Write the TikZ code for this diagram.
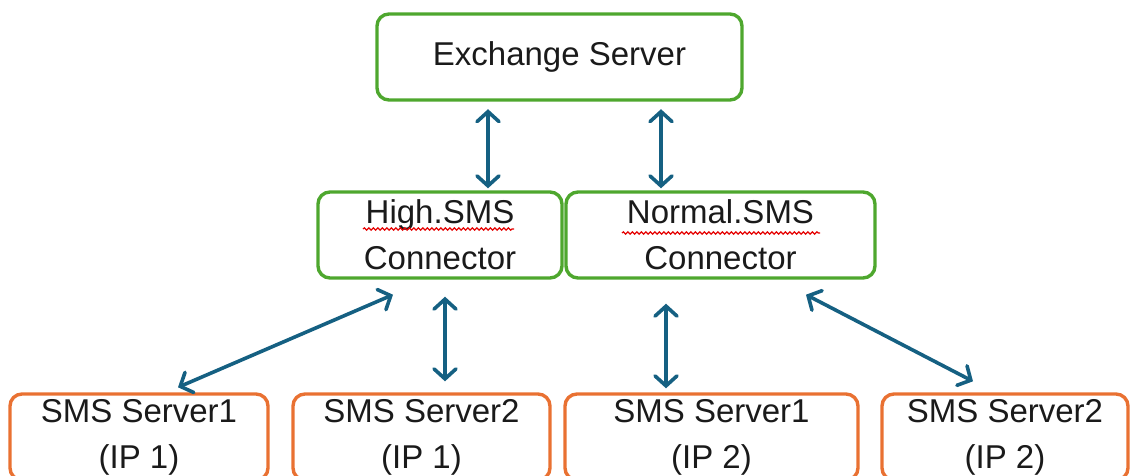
\documentclass[tikz,border=0pt]{standalone}
\usepackage{fontspec}
\setmainfont{Liberation Sans}
\usetikzlibrary{arrows.meta,decorations.pathmorphing}
\definecolor{boxgreen}{HTML}{4EA72E}
\definecolor{boxorange}{HTML}{E97132}
\definecolor{arrblue}{HTML}{156082}
\definecolor{txt}{HTML}{1A1A1A}
\tikzset{
  box/.style={draw, line width=3.4pt, rounded corners=12pt, minimum height=86pt,
    align=center, inner sep=0pt, text=txt,
    font=\fontsize{33}{46}\selectfont},
  greenbox/.style={box, draw=boxgreen},
  orangebox/.style={box, draw=boxorange},
  arr/.style={draw=arrblue, line width=3.6pt, line cap=round,
    {Straight Barb[length=10pt,width=22pt,line cap=round]}-{Straight Barb[length=10pt,width=22pt,line cap=round]}},
  squiggle/.style={draw=red!90!black, line width=1.2pt,
    decorate, decoration={snake, amplitude=1.2pt, segment length=4.5pt}}
}
\begin{document}
\begin{tikzpicture}[x=1pt,y=-1pt]
\useasboundingbox (0,0) rectangle (1133,475);
\clip (0,0) rectangle (1133,475);
\node[greenbox, minimum width=365pt] (ex) at (559.5,57) {Exchange Server};
\node[greenbox, minimum width=244pt] (hi) at (440,235) {High.SMS\\Connector};
\node[greenbox, minimum width=309pt] (no) at (720.5,235) {Normal.SMS\\Connector};
\node[orangebox, minimum width=258pt] (s1) at (139,437) {SMS Server1\\(IP 1)};
\node[orangebox, minimum width=257pt] (s2) at (421.5,437) {SMS Server2\\(IP 1)};
\node[orangebox, minimum width=293pt] (s3) at (711.5,437) {SMS Server1\\(IP 2)};
\node[orangebox, minimum width=246pt] (s4) at (1005,437) {SMS Server2\\(IP 2)};
\draw[squiggle] (363,229) -- (514,229);
\draw[squiggle] (622,233) -- (820,233);
\draw[arr] ([xshift=-71.5pt,yshift=-7.5pt]ex.south) -- ([xshift=48pt,yshift=2pt]hi.north);
\draw[arr] ([xshift=101.5pt,yshift=-7.5pt]ex.south) -- ([xshift=-59.5pt,yshift=2pt]no.north);
\draw[arr] ([xshift=-47pt,yshift=-15pt]hi.south) -- ([xshift=39pt,yshift=5pt]s1.north);
\draw[arr] ([xshift=5pt,yshift=-17pt]hi.south) -- ([xshift=23.5pt,yshift=11pt]s2.north);
\draw[arr] ([xshift=-54.5pt,yshift=-24pt]no.south) -- ([xshift=-45.5pt,yshift=4pt]s3.north);
\draw[arr] ([xshift=85.5pt,yshift=-15pt]no.south) -- ([xshift=-32pt,yshift=11pt]s4.north);
\end{tikzpicture}
\end{document}
